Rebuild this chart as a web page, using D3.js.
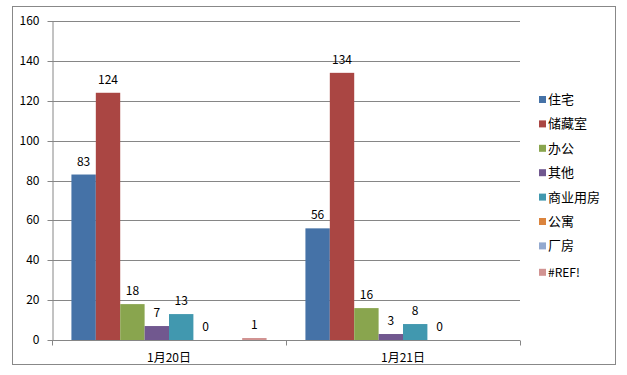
<!DOCTYPE html>
<html>
<head>
<meta charset="utf-8">
<script src="https://cdn.jsdelivr.net/npm/d3@7"></script>
<style>
  body { margin: 0; background: white; }
  text { font-family: "Noto Sans CJK SC", "DejaVu Sans", sans-serif; }
</style>
</head>
<body>
<svg id="chart" width="627" height="375"></svg>
<script>
const categories = ['1月20日', '1月21日'];
const seriesNames = ['住宅', '储藏室', '办公', '其他', '商业用房', '公寓', '厂房', '#REF!'];
// one row per series, one value per category (null = empty cell)
const seriesValues = [
  [83, 56],
  [124, 134],
  [18, 16],
  [7, 3],
  [13, 8],
  [0, 0],
  [null, null],
  [1, null]
];
const colors = ['#4572A7', '#AA4643', '#89A54E', '#71588F', '#4198AF', '#DB843D', '#93A9CF', '#D19392'];
const yTicks = [0, 20, 40, 60, 80, 100, 120, 140, 160];

const svg = d3.select('#chart');
const margin = { left: 52, right: 107, top: 21, bottom: 35 };
const width = 627, height = 375;

// outer frame
svg.append('rect')
  .attr('x', 12.5).attr('y', 6.5)
  .attr('width', 603).attr('height', 358)
  .attr('fill', 'white')
  .attr('stroke', '#888');

const x0 = d3.scaleBand()
  .domain(categories)
  .range([margin.left, width - margin.right])
  .paddingInner(0.166)
  .paddingOuter(0.083);
const x1 = d3.scaleBand()
  .domain(seriesNames)
  .range([0, x0.bandwidth()]);
const y = d3.scaleLinear()
  .domain([0, 160])
  .range([height - margin.bottom, margin.top]);

// gridlines
svg.append('g')
  .selectAll('line')
  .data(yTicks.slice(1))
  .enter().append('line')
  .attr('x1', margin.left).attr('x2', width - margin.right)
  .attr('y1', d => Math.round(y(d)) + 0.5).attr('y2', d => Math.round(y(d)) + 0.5)
  .attr('stroke', '#868686');

// y axis
const yAxis = svg.append('g')
  .attr('transform', `translate(${margin.left + 0.5},0)`)
  .call(d3.axisLeft(y).tickValues(yTicks).tickSize(5).tickPadding(8).tickSizeOuter(0));
yAxis.select('.domain').attr('stroke', '#868686');
yAxis.selectAll('.tick line').attr('stroke', '#868686');
yAxis.selectAll('.tick').attr('transform', d => `translate(0,${Math.round(y(d)) + 0.5})`);
yAxis.selectAll('text').attr('font-size', 12).attr('fill', '#000');

// x axis
const xAxisY = Math.round(y(0)) + 0.5;
svg.append('line')
  .attr('x1', margin.left).attr('x2', width - margin.right)
  .attr('y1', xAxisY).attr('y2', xAxisY)
  .attr('stroke', '#868686');
const step = x0.step();
const bounds = [margin.left, margin.left + step, width - margin.right];
svg.append('g').selectAll('line')
  .data(bounds)
  .enter().append('line')
  .attr('x1', d => Math.round(d) + 0.5).attr('x2', d => Math.round(d) + 0.5)
  .attr('y1', xAxisY).attr('y2', xAxisY + 5)
  .attr('stroke', '#868686');
svg.append('g').selectAll('text')
  .data(categories)
  .enter().append('text')
  .attr('x', (d, i) => margin.left + step * (i + 0.5))
  .attr('y', xAxisY + 21)
  .attr('text-anchor', 'middle')
  .attr('font-size', 12)
  .text(d => d);

// bars
const groups = svg.append('g')
  .selectAll('g')
  .data(categories)
  .enter().append('g')
  .attr('transform', d => `translate(${x0(d)},0)`);

groups.each(function (cat, ci) {
  const g = d3.select(this);
  const pts = seriesNames.map((s, si) => ({ s, si, v: seriesValues[si][ci] }))
    .filter(d => d.v !== null);
  g.selectAll('rect')
    .data(pts)
    .enter().append('rect')
    .attr('x', d => x1(d.s))
    .attr('width', x1.bandwidth())
    .attr('y', d => y(d.v))
    .attr('height', d => y(0) - y(d.v))
    .attr('fill', d => colors[d.si]);
  g.selectAll('text')
    .data(pts)
    .enter().append('text')
    .attr('x', d => x1(d.s) + x1.bandwidth() / 2)
    .attr('y', d => y(d.v) - 9)
    .attr('text-anchor', 'middle')
    .attr('font-size', 12)
    .text(d => d.v);
});

// legend
const legend = svg.append('g')
  .selectAll('g')
  .data(seriesNames)
  .enter().append('g')
  .attr('transform', (d, i) => `translate(539,${98 + i * 24.4 + (i === 7 ? 2 : 0)})`);
legend.append('rect')
  .attr('x', 0).attr('y', -2)
  .attr('width', 7).attr('height', 7)
  .attr('fill', (d, i) => colors[i]);
legend.append('text')
  .attr('x', 9).attr('y', 6)
  .attr('font-size', (d, i) => i === 7 ? 12 : 13)
  .text(d => d);
</script>
</body>
</html>
